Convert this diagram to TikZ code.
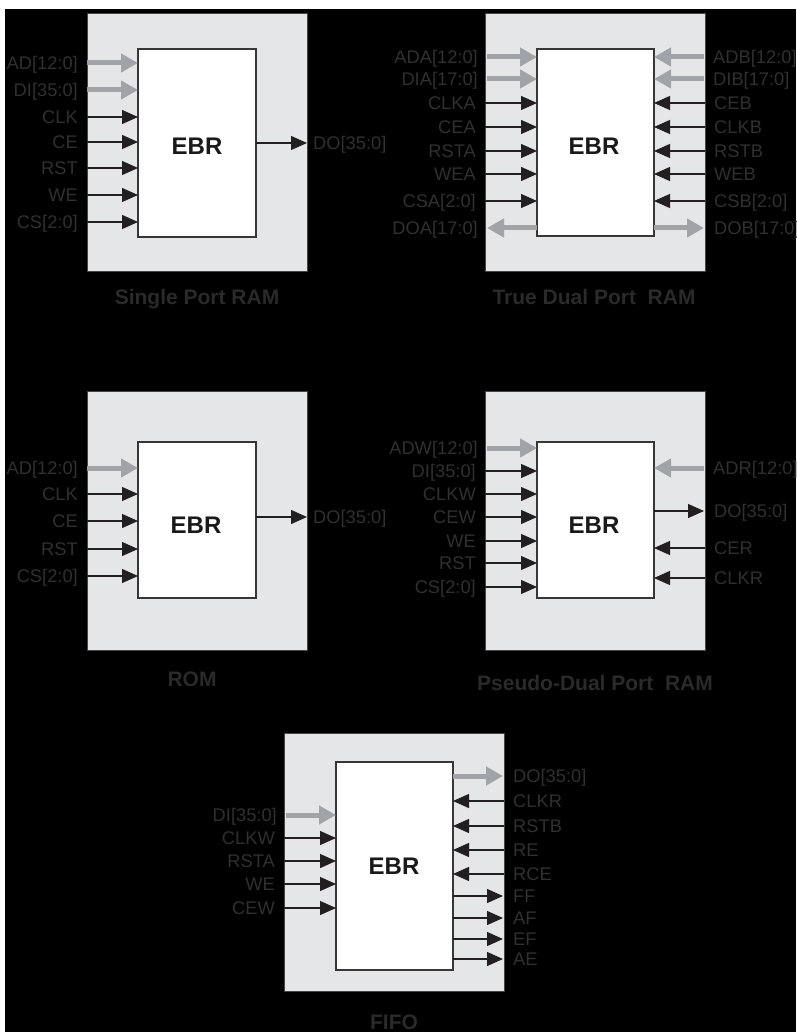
\documentclass[tikz,border=0pt]{standalone}
\usepackage{fontspec}
\setmainfont{Liberation Sans}
\usetikzlibrary{arrows.meta}
\definecolor{boxgray}{RGB}{229,230,232}
\definecolor{boxedge}{RGB}{70,70,70}
\definecolor{ebredge}{RGB}{55,55,55}
\definecolor{busgray}{RGB}{160,164,168}
\definecolor{arrblack}{RGB}{35,31,32}
\definecolor{lblcol}{RGB}{48,48,48}
\definecolor{titlecol}{RGB}{42,42,42}
\tikzset{
  gbox/.style={draw=boxedge, fill=boxgray, line width=0.9pt, inner sep=0pt, outer sep=0pt},
  ebrbox/.style={draw=ebredge, fill=white, line width=1.3pt, inner sep=0pt, outer sep=0pt},
  ebrtext/.style={font=\fontsize{24}{26}\selectfont\bfseries, text=black!90, inner sep=0pt, text height=17pt, text depth=0pt},
  lbl/.style={font=\fontsize{18.3}{20}\selectfont, text=lblcol, inner sep=0pt, text height=13pt, text depth=0pt},
  ttl/.style={font=\fontsize{21}{24}\selectfont\bfseries, text=titlecol, inner sep=0pt, text height=15pt, text depth=0pt},
  sig/.style={draw=arrblack, line width=1.3pt, -{Triangle[length=16pt,width=14pt]}},
  bus/.style={draw=busgray, line width=5pt, -{Triangle[length=17pt,width=18pt]}},
}
% #1 name, #2 style, #3 x edge, #4 y, #5 ebr node, #6 label
\newcommand{\inL}[6]{%
  \coordinate (#1) at (#3,#4);
  \node[lbl, anchor=east] (#1l) at ([xshift=-9pt]#1) {#6};
  \draw[#2] (#1) -- (#1 -| #5.west);}
\newcommand{\outL}[6]{%
  \coordinate (#1) at (#3,#4);
  \node[lbl, anchor=east] (#1l) at ([xshift=-9pt]#1) {#6};
  \draw[#2] (#1 -| #5.west) -- (#1);}
\newcommand{\inR}[6]{%
  \coordinate (#1) at (#3,#4);
  \node[lbl, anchor=west] (#1l) at ([xshift=9pt]#1) {#6};
  \draw[#2] (#1) -- (#1 -| #5.east);}
\newcommand{\outR}[6]{%
  \coordinate (#1) at (#3,#4);
  \node[lbl, anchor=west] (#1l) at ([xshift=6pt]#1) {#6};
  \draw[#2] (#1 -| #5.east) -- (#1);}
\begin{document}
\begin{tikzpicture}[x=1pt,y=-1pt]
\useasboundingbox (0,0) rectangle (796,1032);
\fill[white] (0,0) rectangle (796,1032);
\fill[black] (5,9) rectangle (796,1032);

% ---------- Single Port RAM ----------
\node[gbox, minimum width=220pt, minimum height=258pt] (g1) at (197,142) {};
\node[ebrbox, minimum width=118pt, minimum height=188pt] (e1) at (197,143) {};
\node[ebrtext] (t1) at (197,146) {EBR};
\inL{a1}{bus}{87}{63}{e1}{AD[12:0]}
\inL{a2}{bus}{87}{90}{e1}{DI[35:0]}
\inL{a3}{sig}{87}{117}{e1}{CLK}
\inL{a4}{sig}{87}{142}{e1}{CE}
\inL{a5}{sig}{87}{168}{e1}{RST}
\inL{a6}{sig}{87}{195}{e1}{WE}
\inL{a7}{sig}{87}{222}{e1}{CS[2:0]}
\outR{a8}{sig}{307}{143}{e1}{DO[35:0]}
\node[ttl] (n1) at (197,297) {Single Port RAM};

% ---------- True Dual Port RAM ----------
\node[gbox, minimum width=220pt, minimum height=258pt] (g2) at (595,142) {};
\node[ebrbox, minimum width=117pt, minimum height=187pt] (e2) at (595.5,142.5) {};
\node[ebrtext] (t2) at (594,146) {EBR};
\inL{b1}{bus}{487}{57}{e2}{ADA[12:0]}
\inL{b2}{bus}{487}{79}{e2}{DIA[17:0]}
\inL{b3}{sig}{485}{103}{e2}{CLKA}
\inL{b4}{sig}{485}{127}{e2}{CEA}
\inL{b5}{sig}{485}{151}{e2}{RSTA}
\inL{b6}{sig}{485}{174}{e2}{WEA}
\inL{b7}{sig}{485}{201}{e2}{CSA[2:0]}
\outL{b8}{bus}{487}{228}{e2}{DOA[17:0]}
\inR{c1}{bus}{704}{57}{e2}{ADB[12:0]}
\inR{c2}{bus}{704}{79}{e2}{DIB[17:0]}
\inR{c3}{sig}{705}{103}{e2}{CEB}
\inR{c4}{sig}{705}{127}{e2}{CLKB}
\inR{c5}{sig}{705}{151}{e2}{RSTB}
\inR{c6}{sig}{705}{174}{e2}{WEB}
\inR{c7}{sig}{705}{201}{e2}{CSB[2:0]}
\outR{c8}{bus}{704}{228}{e2}{\hspace{4pt}DOB[17:0]}
\node[ttl] (n2) at (594,297) {True Dual Port\ \ RAM};

% ---------- ROM ----------
\node[gbox, minimum width=220pt, minimum height=259pt] (g3) at (197,520.5) {};
\node[ebrbox, minimum width=118pt, minimum height=156pt] (e3) at (197,520) {};
\node[ebrtext] (t3) at (196,525) {EBR};
\inL{d1}{bus}{87}{468}{e3}{AD[12:0]}
\inL{d2}{sig}{87}{494}{e3}{CLK}
\inL{d3}{sig}{87}{521}{e3}{CE}
\inL{d4}{sig}{87}{549}{e3}{RST}
\inL{d5}{sig}{87}{576}{e3}{CS[2:0]}
\outR{d6}{sig}{307}{517}{e3}{DO[35:0]}
\node[ttl] (n3) at (192,678.5) {ROM};

% ---------- Pseudo-Dual Port RAM ----------
\node[gbox, minimum width=220pt, minimum height=259pt] (g4) at (595,520.5) {};
\node[ebrbox, minimum width=117pt, minimum height=156pt] (e4) at (595.5,520) {};
\node[ebrtext] (t4) at (594,525) {EBR};
\inL{f1}{bus}{487}{448}{e4}{ADW[12:0]}
\inL{f2}{sig}{485}{471}{e4}{DI[35:0]}
\inL{f3}{sig}{485}{494}{e4}{CLKW}
\inL{f4}{sig}{485}{517}{e4}{CEW}
\inL{f5}{sig}{485}{541}{e4}{WE}
\inL{f6}{sig}{485}{563}{e4}{RST}
\inL{f7}{sig}{485}{587}{e4}{CS[2:0]}
\inR{h1}{bus}{704}{468}{e4}{ADR[12:0]}
\outR{h2}{sig}{704}{511}{e4}{\hspace{4pt}DO[35:0]}
\inR{h3}{sig}{705}{548}{e4}{CER}
\inR{h4}{sig}{705}{578}{e4}{CLKR}
\node[ttl] (n4) at (595,683) {Pseudo-Dual Port\ \ RAM};

% ---------- FIFO ----------
\node[gbox, minimum width=220pt, minimum height=258pt] (g5) at (394,862) {};
\node[ebrbox, minimum width=117pt, minimum height=208pt] (e5) at (394.5,866) {};
\node[ebrtext] (t5) at (394,865.5) {EBR};
\inL{k1}{bus}{286}{815}{e5}{DI[35:0]}
\inL{k2}{sig}{284}{838}{e5}{CLKW}
\inL{k3}{sig}{284}{861}{e5}{RSTA}
\inL{k4}{sig}{284}{884}{e5}{WE}
\inL{k5}{sig}{284}{908}{e5}{CEW}
\outR{m1}{bus}{503}{776}{e5}{\hspace{4pt}DO[35:0]}
\inR{m2}{sig}{504}{801}{e5}{CLKR}
\inR{m3}{sig}{504}{826}{e5}{RSTB}
\inR{m4}{sig}{504}{850}{e5}{RE}
\inR{m5}{sig}{504}{874}{e5}{RCE}
\outR{m6}{sig}{503}{896}{e5}{\hspace{4pt}FF}
\outR{m7}{sig}{503}{918}{e5}{\hspace{4pt}AF}
\outR{m8}{sig}{503}{939}{e5}{\hspace{4pt}EF}
\outR{m9}{sig}{503}{959}{e5}{\hspace{4pt}AE}
\node[ttl] (n5) at (394,1022) {FIFO};
\end{tikzpicture}
\end{document}
